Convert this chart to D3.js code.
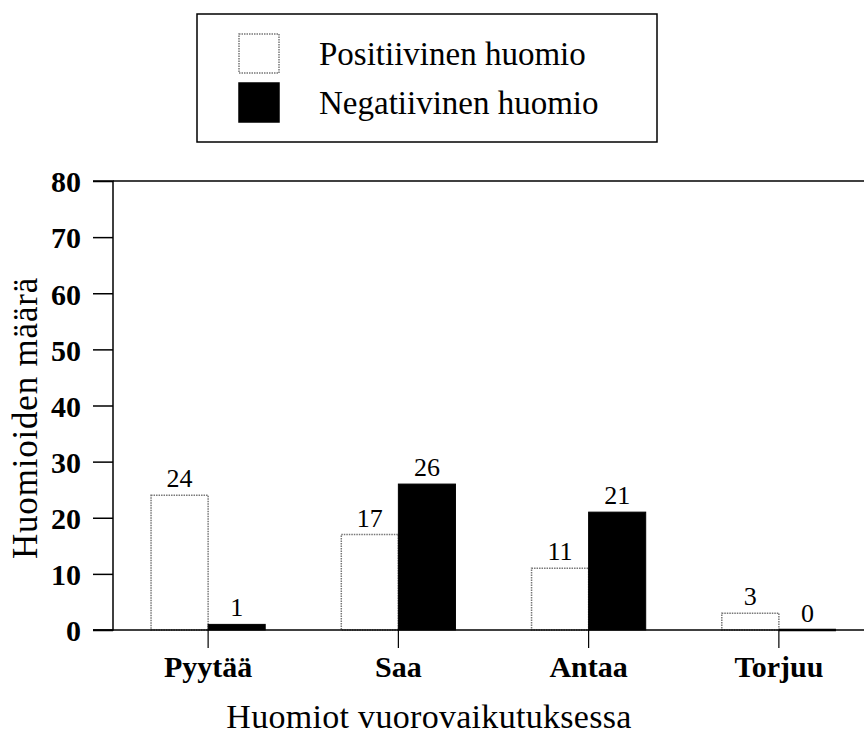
<!DOCTYPE html>
<html>
<head>
<meta charset="utf-8">
<script src="https://cdn.jsdelivr.net/npm/d3@7"></script>
<style>
  html, body { margin: 0; padding: 0; background: #fff; }
  svg { display: block; }
  text { font-family: 'Liberation Serif', 'Times New Roman', serif; fill: #000; }
</style>
</head>
<body>
<svg id="chart" width="864" height="738"></svg>
<script>
// Data
const categories = ["Pyytää", "Saa", "Antaa", "Torjuu"];
const seriesNames = ["Positiivinen huomio", "Negatiivinen huomio"];
const positiveValues = [24, 17, 11, 3];
const negativeValues = [1, 26, 21, 0];
const yTicks = [0, 10, 20, 30, 40, 50, 60, 70, 80];
const xTitle = "Huomiot vuorovaikutuksessa";
const yTitle = "Huomioiden määrä";

const svg = d3.select("#chart");
const W = 864, H = 738;
const axisX = 113, baseY = 630, topY = 181;

const x0 = d3.scaleBand().domain(categories).range([axisX, 874]).paddingInner(0.4).paddingOuter(0.2);
const x1 = d3.scaleBand().domain(seriesNames).range([0, x0.bandwidth()]).padding(0);
const y = d3.scaleLinear().domain([0, 80]).range([baseY, topY]);

const rows = categories.map((c, i) => ({ cat: c, vals: [
  { s: seriesNames[0], v: positiveValues[i] },
  { s: seriesNames[1], v: negativeValues[i] }
]}));

// Plot top border
svg.append("line").attr("x1", axisX).attr("x2", W).attr("y1", y(80)).attr("y2", y(80))
  .attr("stroke", "#000").attr("stroke-width", 1.5);

// Bars
const g = svg.append("g");
const groups = g.selectAll("g.grp").data(rows).join("g")
  .attr("transform", d => `translate(${x0(d.cat)},0)`);

groups.selectAll("rect").data(d => d.vals).join("rect")
  .attr("x", d => x1(d.s))
  .attr("y", d => y(d.v))
  .attr("width", x1.bandwidth())
  .attr("height", d => y(0) - y(d.v))
  .attr("fill", d => d.s === seriesNames[0] ? "#fff" : "#000")
  .attr("stroke", d => d.s === seriesNames[0] ? "#777" : "#000")
  .attr("stroke-width", d => d.s === seriesNames[0] ? 1.5 : 1)
  .attr("stroke-dasharray", d => d.s === seriesNames[0] ? "1.5,1" : null);

// Zero-value negative bars as black baseline segments
groups.selectAll("line.zero").data(d => d.vals.filter(v => v.v === 0)).join("line")
  .attr("class", "zero")
  .attr("x1", d => x1(d.s)).attr("x2", d => x1(d.s) + x1.bandwidth())
  .attr("y1", y(0)).attr("y2", y(0))
  .attr("stroke", "#000").attr("stroke-width", 2.5);

// Value labels
groups.selectAll("text.val").data(d => d.vals).join("text")
  .attr("class", "val")
  .attr("x", d => x1(d.s) + x1.bandwidth() / 2)
  .attr("y", d => y(d.v) - 8)
  .attr("text-anchor", "middle")
  .attr("font-size", 26)
  .text(d => d.v);

// Y axis
const yAxis = d3.axisLeft(y).tickValues(yTicks).tickSize(20).tickPadding(12);
const ya = svg.append("g").attr("transform", `translate(${axisX},0)`).call(yAxis);
ya.select(".domain").attr("stroke", "#000").attr("stroke-width", 1.5).attr("d", `M-20,${y(80)}H0V${y(0)}H-20`);
ya.selectAll(".tick line").attr("stroke", "#000").attr("stroke-width", 1.5);
ya.selectAll(".tick text").attr("font-size", 30).attr("font-weight", "bold")
  .attr("font-family", "'Liberation Serif', 'Times New Roman', serif").attr("dy", "0.36em");

// X axis: baseline + ticks at group centers
svg.append("line").attr("x1", axisX - 20).attr("x2", W).attr("y1", y(0)).attr("y2", y(0))
  .attr("stroke", "#000").attr("stroke-width", 1.5);
const xAxis = d3.axisBottom(x0).tickSize(18).tickPadding(12);
const xa = svg.append("g").attr("transform", `translate(0,${baseY})`).call(xAxis);
xa.select(".domain").remove();
xa.selectAll(".tick line").attr("stroke", "#000").attr("stroke-width", 1.2);
xa.selectAll(".tick text").attr("font-size", 30).attr("font-weight", "bold")
  .attr("font-family", "'Liberation Serif', 'Times New Roman', serif")
  .attr("dy", "0.71em").attr("y", 26);

// Axis titles
svg.append("text").attr("x", 429).attr("y", 728).attr("text-anchor", "middle")
  .attr("font-size", 34).attr("letter-spacing", 0.3).text(xTitle);
svg.append("text").attr("transform", "translate(37,418) rotate(-90)")
  .attr("text-anchor", "middle").attr("font-size", 35).attr("letter-spacing", 0.8).text(yTitle);

// Legend
const leg = svg.append("g");
leg.append("rect").attr("x", 197).attr("y", 14).attr("width", 460).attr("height", 128)
  .attr("fill", "#fff").attr("stroke", "#000").attr("stroke-width", 1.5);
const legItems = leg.selectAll("g.item").data(seriesNames).join("g")
  .attr("transform", (d, i) => `translate(239,${34 + i * 49})`);
legItems.append("rect").attr("width", 40).attr("height", 39)
  .attr("fill", (d, i) => i === 0 ? "#fff" : "#000")
  .attr("stroke", (d, i) => i === 0 ? "#777" : "#000")
  .attr("stroke-width", 1.5)
  .attr("stroke-dasharray", (d, i) => i === 0 ? "1.5,1" : null);
legItems.append("text").attr("x", 80).attr("y", 31).attr("font-size", 33).text(d => d);
</script>
</body>
</html>
